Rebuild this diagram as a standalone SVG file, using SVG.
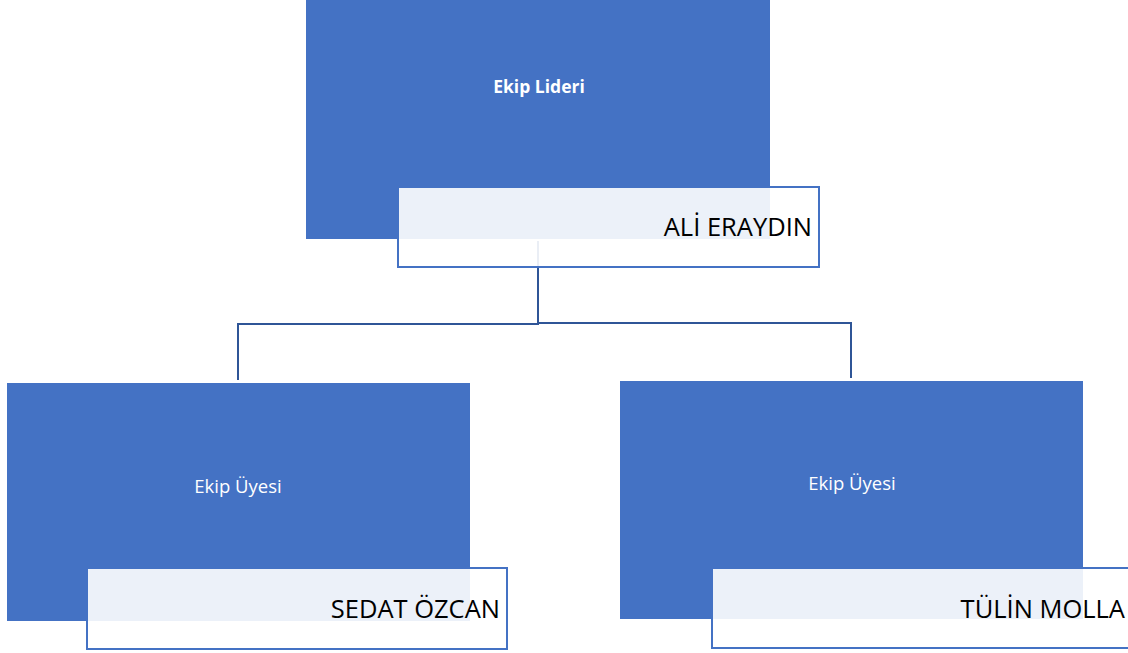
<svg xmlns="http://www.w3.org/2000/svg" width="1128" height="653" viewBox="0 0 1128 653">
<style>
.main{fill:#4472C4}
.name{fill:#FFFFFF;fill-opacity:0.9;stroke:#4472C4;stroke-width:2}
.role{font-family:"Open Sans","Noto Sans",sans-serif;fill:#FFFFFF;text-anchor:middle}
.nm{font-family:"Open Sans","Noto Sans",sans-serif;font-size:25.5px;fill:#000000;text-anchor:end}
.conn{fill:none;stroke:#2F5597;stroke-width:2}
</style>
<rect width="1128" height="653" fill="#FFFFFF"/>
<g id="connectors">
<path class="conn" d="M538 241 V324 H238 V380"/>
<path class="conn" d="M538 323 H851 V378"/>
</g>
<g id="leader">
<rect class="main" x="306" y="0" width="464" height="239"/>
<text class="role" x="539" y="93" font-size="17.5" font-weight="bold">Ekip Lideri</text>
<rect class="name" x="398" y="187" width="421" height="80"/>
<text class="nm" x="812" y="236">ALİ ERAYDIN</text>
</g>
<g id="member1">
<rect class="main" x="7" y="383" width="463" height="238"/>
<text class="role" x="238" y="493" font-size="18.5">Ekip Üyesi</text>
<rect class="name" x="87" y="568" width="420" height="81"/>
<text class="nm" x="500" y="618">SEDAT ÖZCAN</text>
</g>
<g id="member2">
<rect class="main" x="620" y="381" width="463" height="238"/>
<text class="role" x="852" y="490" font-size="18.5">Ekip Üyesi</text>
<rect class="name" x="712" y="568" width="420" height="80"/>
<text class="nm" x="1125" y="618">TÜLİN MOLLA</text>
</g>
</svg>
